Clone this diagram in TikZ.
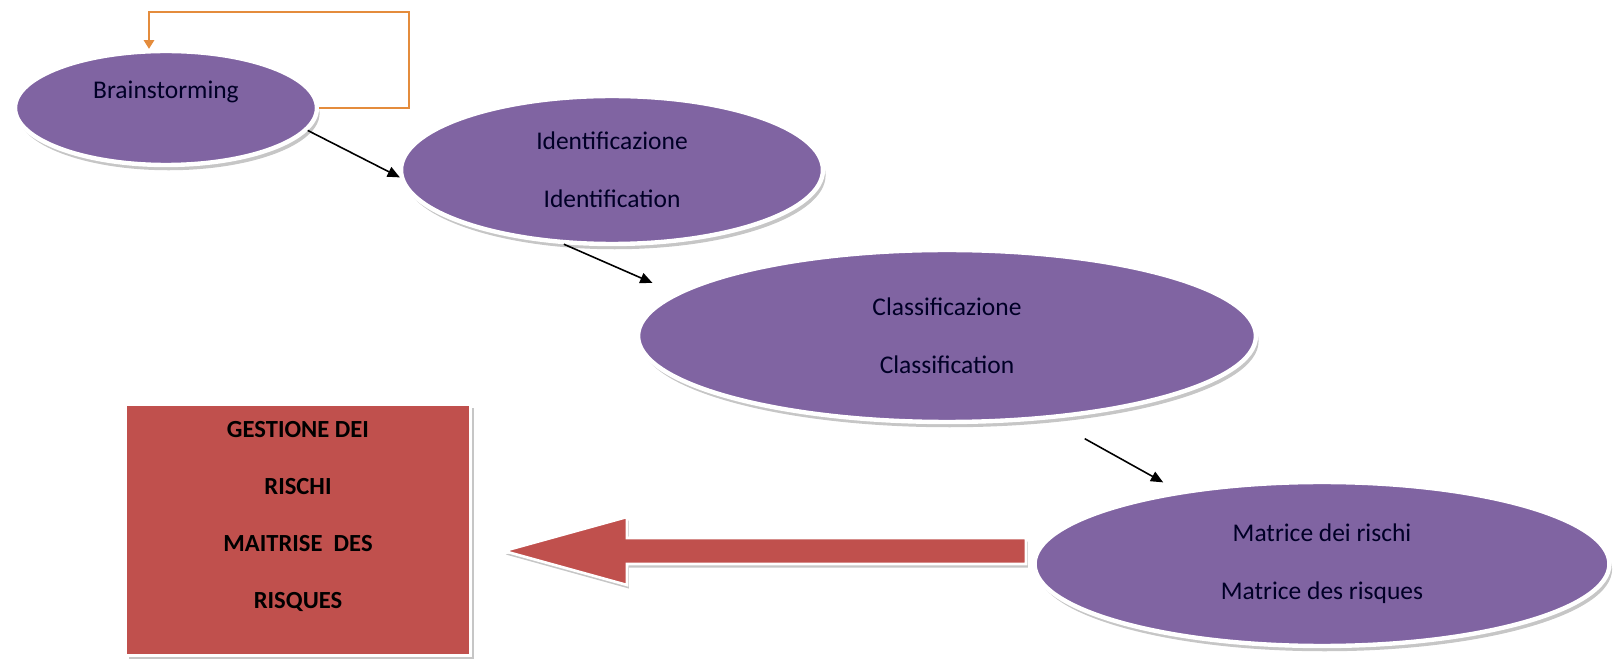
\documentclass[tikz,border=0pt]{standalone}
\usepackage{fontspec}
\setmainfont{Carlito}
\usetikzlibrary{shapes.geometric, arrows.meta, positioning, calc, shadows}
\definecolor{riskpurple}{RGB}{128, 100, 162}
\definecolor{riskred}{RGB}{192, 80, 77}
\definecolor{looporange}{RGB}{228, 140, 60}

\begin{document}
\begin{tikzpicture}[x=0.02cm, y=-0.02cm,
    bubble/.style={ellipse, draw=white, line width=2.5pt, fill=riskpurple, inner sep=0pt, align=center, text=black!85!blue,
        font=\fontsize{14.5}{33}\selectfont, drop shadow={shadow xshift=1.5pt, shadow yshift=-3pt, fill=black!50, opacity=0.45}},
    riskbox/.style={rectangle, draw=white, line width=2pt, fill=riskred, minimum width=6.9cm, minimum height=5.02cm,
        align=center, font=\fontsize{14}{32.5}\selectfont\bfseries, drop shadow={shadow xshift=2pt, shadow yshift=-2pt, fill=black!50, opacity=0.45}},
    flow/.style={-{Triangle[length=7pt, width=6pt]}, line width=0.9pt},
    loopline/.style={draw=looporange, line width=0.9pt, -{Triangle[length=5pt, width=6pt]}},
    blockarrow/.style={fill=riskred, draw=white, line width=1.5pt, drop shadow={shadow xshift=1pt, shadow yshift=-2pt, fill=black!50, opacity=0.45}}
]
\useasboundingbox (0,0) rectangle (1614,665);

\node[bubble, minimum width=6.04cm, minimum height=2.28cm, text depth=0.72cm] (brain) at (166,108) {Brainstorming};
\node[bubble, minimum width=8.44cm, minimum height=2.96cm] (ident) at (612,170) {Identificazione\\Identification};
\node[bubble, minimum width=12.36cm, minimum height=3.44cm] (classif) at (947,336) {Classificazione\\Classification};
\node[bubble, minimum width=11.5cm, minimum height=3.28cm] (matrix) at (1322,564) {Matrice dei rischi\\Matrice des risques};

\node[riskbox, text depth=0.6cm] (gestion) at (298,530) {GESTIONE DEI\\RISCHI\\MAITRISE~ DES\\RISQUES};

\draw[loopline] (brain.east) -- ++(90,0) -- ++(0,-96) -| ([xshift=-0.34cm]brain.north);

\draw[flow] (brain.-9) -- (ident.182);
\draw[flow, shorten >=0.5cm] (ident.237) -- (classif.171);
\draw[flow, shorten <=0.8cm, shorten >=0.35cm] (classif.-39) -- (matrix.153);

\coordinate (atail) at (1026,551);
\coordinate (ahead) at (504,551);
\draw[blockarrow] (atail) ++(0,-13) -- ++(-399,0) -- ++(0,-21) -- (ahead) -- ++(123,34) -- ++(0,-21) -- ++(399,0) -- cycle;
\end{tikzpicture}
\end{document}
